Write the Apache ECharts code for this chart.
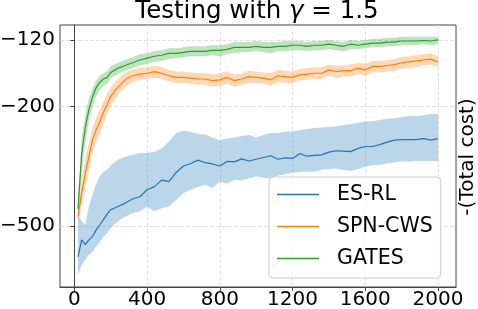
<!DOCTYPE html>
<html><head><meta charset="utf-8">
<script src="https://cdn.jsdelivr.net/npm/echarts@6/dist/echarts.min.js"></script>
<style>html,body{margin:0;padding:0;background:#fff}#c{width:478px;height:309px}</style>
</head><body><div id="c"></div>
<script>
// ---- data (values are -(Total cost)) ----
const iterations = [20,40,60,80,100,120,140,160,180,200,
  240,280,320,360,400,
  440,480,520,560,600,640,680,720,760,800,
  840,880,920,960,1000,1040,1080,1120,1160,1200,
  1240,1280,1320,1360,1400,1440,1480,1520,1560,1600,
  1640,1680,1720,1760,1800,1840,1880,1920,1960,2000];

const esrlMean = [-635,-557,-578,-557,-543,-516,-497,-477,-457,-442,
  -431,-420,-407,-400,-379,
  -370,-352,-356,-332,-316,-310,-302,-308,-311,-316,
  -305,-306,-299,-304,-300,-296,-292,-300,-297,-298,
  -287,-293,-291,-290,-284,-281,-282,-283,-276,-272,
  -272,-268,-263,-259,-258,-258,-258,-256,-259,-256];
const esrlUpper = [-460,-483,-497,-431,-394,-363,-342,-330,-326,-314,
  -301,-294,-290,-286,-286,
  -283,-276,-262,-245,-241,-243,-247,-248,-254,-259,
  -256,-254,-251,-249,-254,-249,-245,-245,-243,-242,
  -240,-238,-236,-235,-234,-233,-231,-229,-227,-225,
  -224,-222,-220,-219,-217,-215,-215,-214,-212,-212];
const esrlLower = [-730,-676,-649,-625,-610,-587,-565,-543,-530,-509,
  -483,-466,-454,-448,-431,
  -448,-437,-431,-410,-389,-379,-371,-365,-374,-356,
  -362,-351,-353,-348,-342,-346,-348,-340,-336,-333,
  -331,-330,-330,-325,-323,-322,-326,-328,-323,-317,
  -314,-313,-310,-307,-305,-305,-304,-304,-304,-304];

const spnMean = [-466,-389,-334,-294,-258,-239,-225,-209,-197,-185,
  -172,-163,-158,-156,-155,
  -153,-155,-158,-160,-160,-161,-162,-162,-164,-163,
  -160,-164,-162,-159,-160,-161,-163,-158,-159,-160,
  -157,-156,-155,-155,-151,-153,-152,-152,-149,-151,
  -147,-147,-146,-145,-143,-142,-141,-140,-139,-142];
const spnUpper = [-445,-350,-298,-264,-234,-218,-205,-192,-182,-172,
  -162,-154,-151,-149,-148,
  -146,-148,-151,-153,-153,-154,-155,-155,-156,-155,
  -153,-156,-155,-152,-153,-154,-155,-151,-152,-153,
  -150,-149,-148,-148,-145,-146,-146,-145,-143,-144,
  -141,-141,-140,-139,-137,-136,-135,-134,-133,-136];
const spnLower = [-490,-430,-372,-328,-286,-263,-247,-228,-213,-199,
  -183,-172,-166,-163,-162,
  -160,-162,-165,-167,-167,-168,-169,-170,-172,-171,
  -168,-172,-170,-167,-167,-168,-171,-166,-167,-167,
  -164,-163,-162,-162,-158,-160,-159,-159,-156,-158,
  -154,-154,-153,-152,-150,-149,-148,-146,-145,-148];

const gatesMean = [-440,-290,-235,-205,-186,-173,-166,-162,-160,-154,
  -149,-146,-143,-140,-138,
  -136,-135,-133,-133,-132,-131,-131,-131,-130,-130,
  -129,-127,-127,-127,-126,-127,-127,-126,-126,-125,
  -125,-126,-125,-125,-124,-125,-126,-124,-125,-124,
  -123,-123,-122,-122,-121,-121,-121,-120.5,-121,-120];
const gatesUpper = [-405,-258,-212,-188,-174,-164,-158,-155,-153,-147,
  -143,-140,-137,-134,-133,
  -131,-130,-128,-128,-127,-126,-126,-126,-125,-125,
  -124,-122,-122,-122,-121,-122,-122,-122,-121,-121,
  -121,-122,-121,-121,-120,-121,-122,-120,-121,-120,
  -119,-119,-118,-118,-117,-117,-117,-117,-117,-117];
const gatesLower = [-470,-330,-262,-224,-200,-185,-176,-171,-168,-161,
  -156,-152,-149,-146,-144,
  -142,-141,-139,-138,-137,-136,-136,-136,-135,-136,
  -134,-133,-132,-132,-131,-132,-133,-131,-131,-130,
  -130,-131,-130,-130,-129,-130,-131,-129,-129,-128,
  -127,-127,-126,-126,-125,-125,-125,-124,-125,-124];

const seriesNames = ['ES-RL','SPN-CWS','GATES'];
const xTicks = [0,400,800,1200,1600,2000];
const yTicks = [-120,-200,-500];

// ---- chart ----
const FONT = 'DejaVu Sans';
const COLORS = ['#1f77b4','#ff7f0e','#2ca02c'];
const BANDS = ['rgba(31,119,180,0.3)','rgba(255,127,14,0.3)','rgba(44,160,44,0.3)'];
// the y axis is a log scale of the cost magnitude, inverted so -120 is on top
const mag = v => -v;

function lineSeries(name, mean, color) {
  return {
    type: 'line', name: name, data: iterations.map((x, i) => [x, mag(mean[i])]),
    showSymbol: false, symbol: 'none', animation: false, z: 3,
    lineStyle: { color: color, width: 1.2 }, itemStyle: { color: color }
  };
}
function bandSeries(name, upper, lower, fill) {
  return {
    type: 'custom', name: name + ' band', coordinateSystem: 'cartesian2d',
    silent: true, animation: false, z: 2, clip: true,
    encode: { x: 0, y: [1, 2] },
    data: iterations.map((x, i) => [x, mag(upper[i]), mag(lower[i])]),
    renderItem: function (params, api) {
      if (params.dataIndex !== 0) return null;
      const pts = [];
      for (let i = 0; i < iterations.length; i++) pts.push(api.coord([iterations[i], mag(upper[i])]));
      for (let i = iterations.length - 1; i >= 0; i--) pts.push(api.coord([iterations[i], mag(lower[i])]));
      return { type: 'polygon', shape: { points: pts }, style: { fill: fill, stroke: null } };
    }
  };
}

const chart = echarts.init(document.getElementById('c'), null, { renderer: 'canvas' });
const gridLine = { show: true, lineStyle: { color: '#d8d8d8', width: 0.8, type: [4, 2] } };
chart.setOption({
  animation: false,
  grid: { left: 60, right: 22, top: 25, bottom: 22, show: true, borderColor: '#444', borderWidth: 1,
    containLabel: false, outerBoundsMode: 'none' },
  xAxis: {
    type: 'value', min: -79, max: 2099,
    axisLine: { show: true, onZero: false, lineStyle: { color: '#444', width: 1 } },
    axisTick: { show: true, length: 4, customValues: xTicks, lineStyle: { color: '#444' } },
    axisLabel: { customValues: xTicks, fontFamily: FONT, fontSize: 20, color: '#000', margin: 3,
      formatter: v => String(Math.round(v)) },
    splitLine: gridLine
  },
  yAxis: {
    type: 'log', logBase: 10, inverse: true, min: 107, max: 800,
    axisLine: { show: true, lineStyle: { color: '#444', width: 1 } },
    axisTick: { show: true, length: 4, customValues: yTicks.map(mag), lineStyle: { color: '#444' } },
    axisLabel: { customValues: yTicks.map(mag), fontFamily: FONT, fontSize: 20, color: '#000', margin: 5,
      formatter: v => '\u2212' + Math.round(v) },
    splitLine: gridLine
  },
  legend: {
    orient: 'vertical', left: 269, top: 177, padding: [7, 8, 9, 8],
    icon: 'rect', itemWidth: 42, itemHeight: 1.5, itemGap: 11,
    backgroundColor: 'rgba(255,255,255,0.8)', borderColor: '#cccccc', borderWidth: 1, borderRadius: 4,
    textStyle: { fontFamily: FONT, fontSize: 20.5, color: '#000', lineHeight: 20, padding: [0, 0, 0, 13] },
    data: seriesNames
  },
  graphic: [
    { type: 'text', x: 257, y: 12, z: 10, silent: true,
      style: { text: 'Testing with {g|\u03b3} = 1.5', align: 'center', verticalAlign: 'middle',
        fontFamily: FONT, fontSize: 24.5, fill: '#000',
        rich: { g: { fontFamily: FONT, fontSize: 24.5, fontStyle: 'italic', fill: '#000' } } } },
    { type: 'text', x: 468, y: 157, rotation: Math.PI / 2, z: 10, silent: true,
      style: { text: '-(Total cost)', align: 'center', verticalAlign: 'middle',
        fontFamily: FONT, fontSize: 20, fill: '#000' } }
  ],
  series: [
    bandSeries(seriesNames[0], esrlUpper, esrlLower, BANDS[0]),
    lineSeries(seriesNames[0], esrlMean, COLORS[0]),
    bandSeries(seriesNames[1], spnUpper, spnLower, BANDS[1]),
    lineSeries(seriesNames[1], spnMean, COLORS[1]),
    bandSeries(seriesNames[2], gatesUpper, gatesLower, BANDS[2]),
    lineSeries(seriesNames[2], gatesMean, COLORS[2])
  ]
});
</script></body></html>
